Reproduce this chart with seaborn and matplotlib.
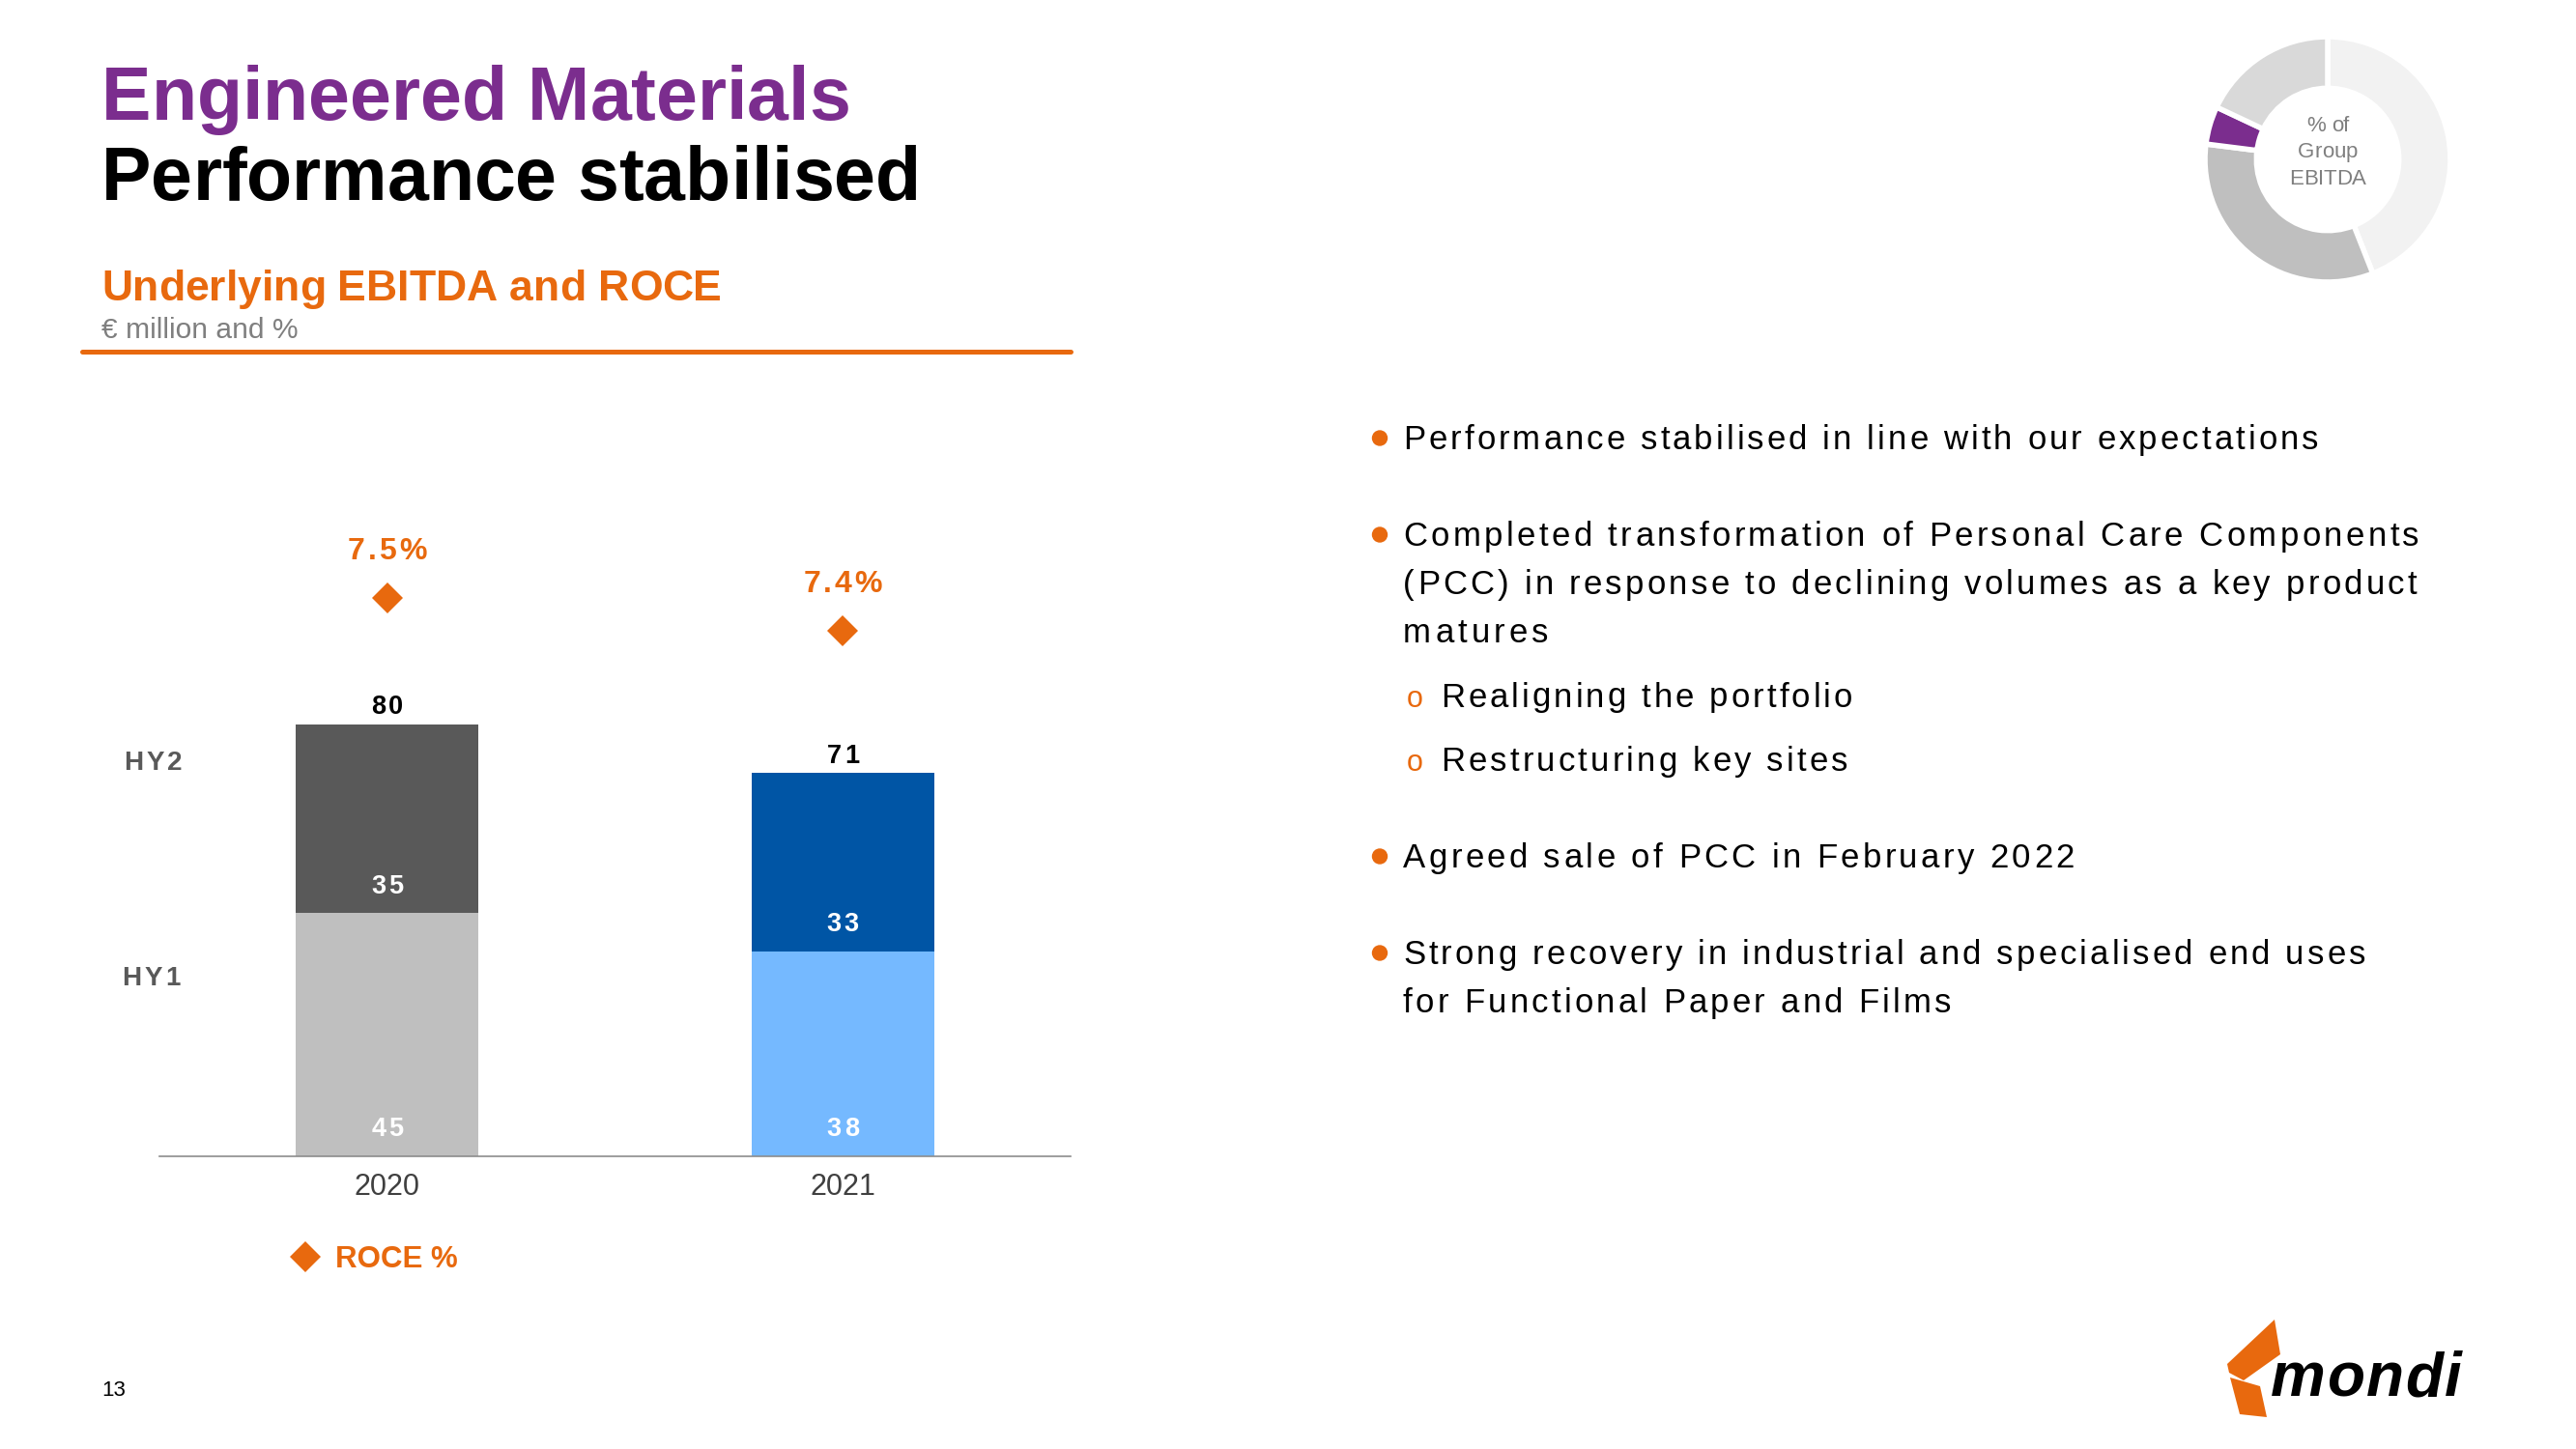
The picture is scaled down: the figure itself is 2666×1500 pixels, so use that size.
#!/usr/bin/env python3
"""Engineered Materials slide: underlying EBITDA (HY1/HY2) and ROCE."""

import matplotlib

matplotlib.use("Agg")
import matplotlib.pyplot as plt
import pandas as pd
import seaborn as sns
from matplotlib import font_manager
from matplotlib.font_manager import FontProperties
from matplotlib.ft2font import FT2Font
from matplotlib.lines import Line2D
from matplotlib.patches import Circle, Polygon
from matplotlib.transforms import Affine2D, offset_copy

# --- data -------------------------------------------------------------------
years = ["2020", "2021"]
hy1 = [45, 38]
hy2 = [35, 33]
roce = [7.5, 7.4]
roce_labels = ["7.5%", "7.4%"]
hy1_colors = ["#BFBFBF", "#75B9FF"]
hy2_colors = ["#595959", "#0055A5"]

# share of group EBITDA, clockwise from 12 o'clock
group_share = [44, 33, 5, 18]
group_colors = ["#F2F2F2", "#BFBFBF", "#7B2D8E", "#D9D9D9"]

bullet_points = [
    ["Performance stabilised in line with our expectations"],
    ["Completed transformation of Personal Care Components",
     "(PCC) in response to declining volumes as a key product",
     "matures"],
    ["Agreed sale of PCC in February 2022"],
    ["Strong recovery in industrial and specialised end uses",
     "for Functional Paper and Films"],
]
sub_points = ["Realigning the portfolio", "Restructuring key sites"]

ORANGE = "#E8690E"
PURPLE = "#7B2D8E"
GREY = "#595959"
W, H = 2666, 1500
BASE = "Liberation Sans"

sns.set_theme(style="white")
plt.rcParams["font.family"] = [BASE, "DejaVu Sans"]

_fonts = {}


def advances(s, weight, size, style="normal"):
    key = (weight, style)
    if key not in _fonts:
        path = font_manager.findfont(
            FontProperties(family=BASE, weight=weight, style=style))
        _fonts[key] = FT2Font(path)
    ft = _fonts[key]
    ft.set_size(size, 72)
    return [ft.load_char(ord(c)).linearHoriAdvance / 65536 for c in s]


def X(px):
    return px / W


def Y(py):
    return 1 - py / H


def tracked(x, y, s, size, weight="normal", color="black", ha="left",
            transform=None, dy=0.0, spread=1.0, style="normal"):
    """Letter-spaced text: glyphs spread so the line is `spread` times wider."""
    adv = advances(s, weight, size, style)
    width = sum(adv) * spread
    gap = (width - sum(adv)) / max(len(s) - 1, 1)
    x0 = {"left": 0.0, "center": -width / 2, "right": -width}[ha]
    base = transform if transform is not None else fig.transFigure
    for ch, a in zip(s, adv):
        if not ch.isspace():
            fig.text(x, y, ch, family=BASE, weight=weight, style=style,
                     size=size, color=color, ha="left", va="baseline",
                     transform=offset_copy(base, fig=fig, x=x0, y=dy, units="points"))
        x0 += a + gap


fig = plt.figure(figsize=(W / 100, H / 100), dpi=100)
PX = Affine2D().scale(1, -1).translate(0, H)  # top-left pixel coords

# --- headings -----------------------------------------------------------------
tracked(X(105), Y(124), "Engineered Materials", 55.5, weight="bold", color=PURPLE)
tracked(X(105), Y(207), "Performance stabilised", 55.5, weight="bold", color="black")
tracked(X(105), Y(311), "Underlying EBITDA and ROCE", 32, weight="bold", color=ORANGE)
fig.text(X(105), Y(350), "€ million and %", size=21.6, color="#7F7F7F", va="baseline")
fig.add_artist(Line2D([X(85), X(1108)], [Y(364), Y(364)], color=ORANGE, lw=3.6))

# --- stacked bars + ROCE ------------------------------------------------------
frame = pd.DataFrame({"year": years, "hy1": hy1, "hy2": hy2, "roce": roce})
frame["total"] = frame["hy1"] + frame["hy2"]

ax = fig.add_axes([X(165), Y(1197), X(1108) - X(165), (1197 - 498) / H])
sns.barplot(data=frame, x="year", y="total", hue="year",
            palette=dict(zip(years, hy2_colors)), width=0.4, saturation=1,
            linewidth=0, legend=False, ax=ax)
sns.barplot(data=frame, x="year", y="hy1", hue="year",
            palette=dict(zip(years, hy1_colors)), width=0.4, saturation=1,
            linewidth=0, legend=False, ax=ax)
ax.set_ylim(0, 125)

ax2 = ax.twinx()
sns.pointplot(data=frame, x="year", y="roce", color=ORANGE, markers="D",
              linestyle="none", markersize=16.5, markeredgewidth=0,
              errorbar=None, ax=ax2)
ax2.set_ylim(5.8, 7.856)
ax2.set_axis_off()
ax.set_xlim(-0.5, 1.5)

ax.set_xlabel("")
ax.set_ylabel("")
ax.set_yticks([])
sns.despine(ax=ax, left=True)
ax.spines["bottom"].set_color("#8C8C8C")
ax.spines["bottom"].set_linewidth(1.2)
ax.tick_params(axis="x", length=0, pad=12.5, labelsize=22, labelcolor="#404040")

for i, row in frame.iterrows():
    tracked(i, row["total"], str(row["total"]), 19.5, weight="bold", ha="center",
            transform=ax.transData, dy=7.5, spread=1.1)
    tracked(i, 0, str(row["hy1"]), 19.5, weight="bold", color="white", ha="center",
            transform=ax.transData, dy=14.8, spread=1.1)
    tracked(i, row["hy1"], str(row["hy2"]), 19.5, weight="bold", color="white",
            ha="center", transform=ax.transData, dy=14.8, spread=1.1)
    tracked(i, row["roce"], roce_labels[i], 23, weight="bold", color=ORANGE,
            ha="center", transform=ax2.transData, dy=28.5, spread=1.12)

tracked(X(128), Y(797), "HY2", 20, weight="bold", color=GREY, spread=1.12)
tracked(X(126), Y(1020), "HY1", 20, weight="bold", color=GREY, spread=1.12)

handle = Line2D([], [], marker="D", linestyle="none", color=ORANGE,
                markersize=16.5, markeredgewidth=0)
leg = fig.legend([handle], ["ROCE %"], loc="center left",
                 bbox_to_anchor=(X(300), Y(1304)), frameon=False,
                 handlelength=1.0, handletextpad=0.5, borderpad=0,
                 borderaxespad=0,
                 prop=FontProperties(family=BASE, weight="bold", size=22.5))
for t in leg.get_texts():
    t.set_color(ORANGE)

# --- donut: share of group EBITDA ----------------------------------------------
cx, cy, r = 2409, 165, 127
axd = fig.add_axes([X(cx - r), Y(cy + r), 2 * r / W, 2 * r / H])
axd.pie(group_share, colors=group_colors, startangle=90, counterclock=False,
        radius=1.0, wedgeprops=dict(width=0.42, edgecolor="white", linewidth=4))
axd.set_xlim(-1.0, 1.0)
axd.set_ylim(-1.0, 1.0)
axd.set_axis_off()
for text, base in zip(["% of", "Group", "EBITDA"], [136, 163, 191]):
    tracked(X(cx), Y(base), text, 16, color="#7F7F7F", ha="center")

# --- bullet list ------------------------------------------------------------------
y = 465
for n, lines in enumerate(bullet_points):
    fig.add_artist(Circle((1428, y - 11.5), 7.5, color=ORANGE, transform=PX))
    for k, line in enumerate(lines):
        tracked(X(1452), Y(y + 50 * k), line, 25, spread=1.2)
    y += 50 * (len(lines) - 1)
    if n == 1:
        for sub in sub_points:
            y += 66.5
            fig.text(X(1464), Y(y), "o", size=22, color=ORANGE, ha="center",
                     va="baseline")
            tracked(X(1491), Y(y), sub, 25, spread=1.2)
    y += 100

# --- page number and logo -------------------------------------------------------
fig.text(X(105), Y(1445), "13", size=16, color="black", va="baseline")

upper = [(2305, 1412), (2354, 1366), (2360, 1402), (2322, 1429), (2307, 1421)]
lower = [(2308, 1426), (2339, 1435), (2346, 1467), (2318, 1464)]
for verts in (upper, lower):
    fig.add_artist(Polygon(verts, closed=True, color=ORANGE, lw=0, transform=PX))
tracked(X(2350), Y(1445), "mondi", 46, weight="bold", style="italic",
        color="black", spread=1.03)

fig.savefig("out.png", dpi=100, facecolor="white")
